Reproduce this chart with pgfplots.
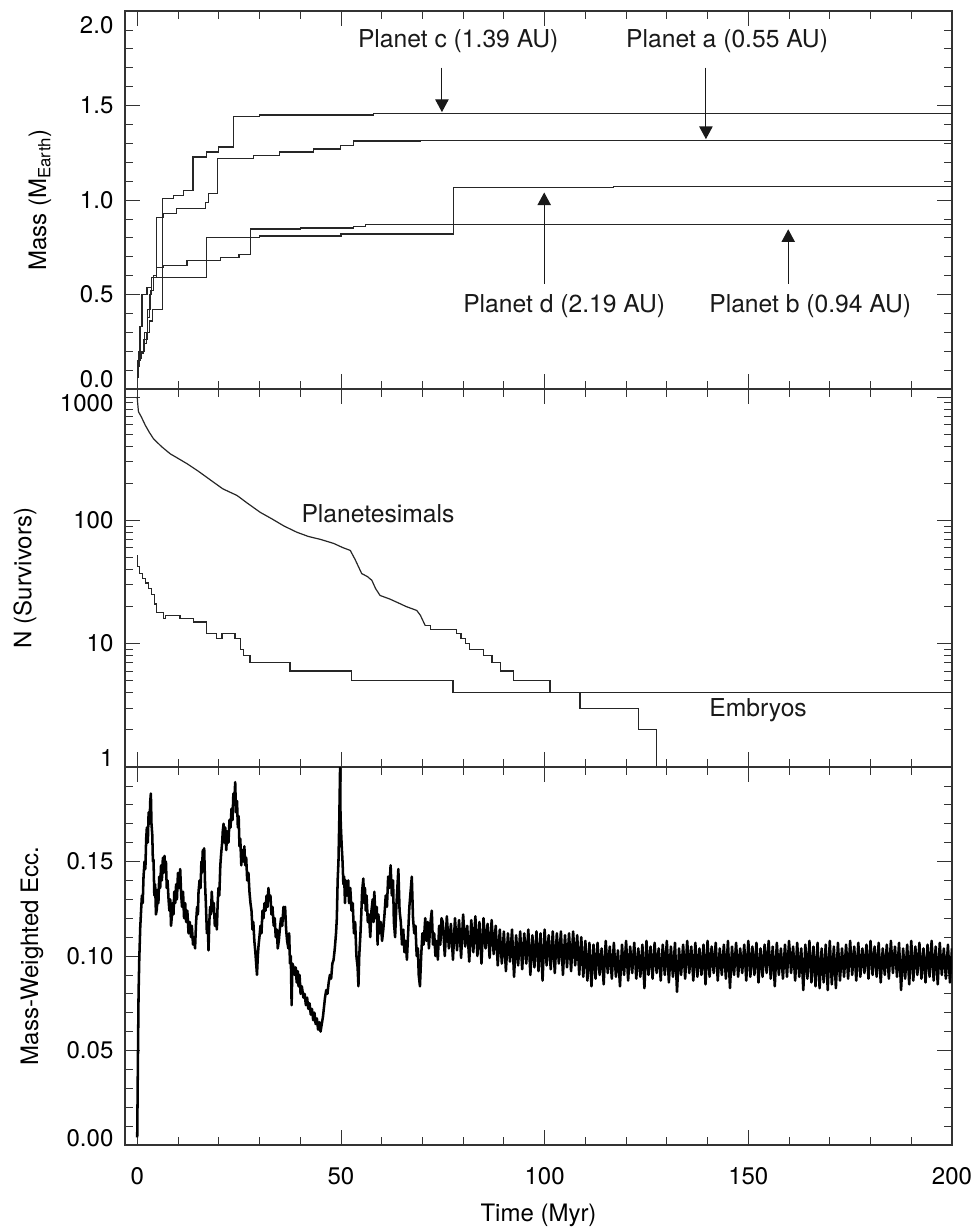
\documentclass[border=0pt]{standalone}
\usepackage{fontspec}
\setmainfont{TeX Gyre Heros}
\usepackage{pgfplots}
\pgfplotsset{compat=1.18}
\usetikzlibrary{arrows.meta}
\begin{document}
\begin{tikzpicture}
\pgfplotsset{
  idl/.style={
    width=620.25pt, height=283.5pt, scale only axis,
    xmin=-3, xmax=200,
    xtick={0,50,100,150,200}, minor x tick num=4,
    tick align=inside, tick pos=both,
    major tick length=11pt, minor tick length=6pt,
    axis line style={line width=0.8pt, black!80},
    every tick/.style={black!80, line width=0.6pt},
    font=\fontsize{18}{21.5}\selectfont,
    yticklabel style={xshift=-5.2pt},
    xticklabel style={yshift=-13.5pt},
    every axis plot/.append style={line width=0.9pt, black!85},
  },
}
\tikzset{
  ann/.style={font=\fontsize{18.5}{22}\selectfont, black!90},
  arr/.style={-{Triangle[width=10pt,length=9.5pt]}, line width=0.8pt, black!90},
}
\useasboundingbox (-93.75pt,8.25pt) rectangle (638.25pt,-912.75pt);

% ---------------- Panel 1: masses ----------------
\begin{axis}[idl, at={(0pt,0pt)}, anchor=north west,
  ymin=0, ymax=2,
  ytick={0,0.5,1,1.5,2}, minor y tick num=4,
  yticklabels={\raisebox{7.5pt}[\height][\depth]{0.0},0.5,1.0,1.5,\raisebox{-10.5pt}[\height][\depth]{2.0}},
  xticklabels={},
  ylabel={Mass (M\textsubscript{Earth})},
  ylabel style={at={(axis description cs:-0.1028,0.5)}, anchor=center},
]
% Planet c
\addplot[const plot] coordinates {(0,0.06) (0.2,0.15) (0.8,0.19) (1.5,0.24) (2.2,0.30) (3.0,0.36) (3.8,0.42) (6.3,1.006) (8.9,1.024) (11.4,1.05) (13.7,1.227) (17.1,1.254) (20.0,1.28) (23.6,1.44) (30,1.45) (58,1.458) (200,1.458)};
% Planet a
\addplot[const plot] coordinates {(0,0.1) (0.3,0.16) (1,0.2) (1.8,0.3) (2.6,0.42) (3.3,0.52) (3.9,0.6) (4.66,0.909) (6.5,0.927) (9.7,0.953) (16.7,0.988) (17.5,1.033) (19.7,1.218) (28.5,1.236) (35,1.254) (43.3,1.27) (49.8,1.289) (53.1,1.312) (69.4,1.316) (200,1.316)};
% Planet b
\addplot[const plot] coordinates {(0,0.08) (0.3,0.2) (0.7,0.33) (1.15,0.5) (2.4,0.537) (3.5,0.59) (4.7,0.643) (6.5,0.652) (12.2,0.679) (20.4,0.697) (25,0.71) (27.9,0.847) (40,0.852) (53.1,0.858) (56,0.87) (200,0.87)};
% Planet d
\addplot[const plot] coordinates {(0,0.12) (0.5,0.2) (1.5,0.26) (2.5,0.38) (3.1,0.5) (3.6,0.59) (17.1,0.80) (30,0.81) (50,0.82) (77.6,1.066) (117,1.072) (200,1.072)};
\node[ann] at (axis cs:78.8,1.84) {Planet c (1.39 AU)};
\node[ann] at (axis cs:144.8,1.84) {Planet a (0.55 AU)};
\node[ann] at (axis cs:104.8,0.44) {Planet d (2.19 AU)};
\node[ann] at (axis cs:165.2,0.44) {Planet b (0.94 AU)};
\draw[arr] (axis cs:74.8,1.70) -- (axis cs:74.8,1.465);
\draw[arr] (axis cs:139.6,1.70) -- (axis cs:139.6,1.322);
\draw[arr] (axis cs:99.9,0.557) -- (axis cs:99.9,1.04);
\draw[arr] (axis cs:159.8,0.557) -- (axis cs:159.8,0.845);
\end{axis}

% ---------------- Panel 2: survivors ----------------
\begin{axis}[idl, at={(0pt,-283.5pt)}, anchor=north west,
  ymode=log, ymin=1, ymax=1160,
  ytick={1,10,100,1000},
  minor ytick={2,3,4,5,6,7,8,9,20,30,40,50,60,70,80,90,200,300,400,500,600,700,800,900},
  yticklabels={\raisebox{6.75pt}[\height][\depth]{1},10,100,\raisebox{-5pt}[\height][\depth]{1000}},
  xticklabels={},
  ylabel={N (Survivors)},
  ylabel style={at={(axis description cs:-0.121,0.5)}, anchor=center},
]
% Planetesimals (smooth part)
\addplot[sharp plot] coordinates {(0,1000) (0.1,900) (0.3,760) (1,690) (2,588) (3,515) (4,458) (6,395) (8.1,346) (10,318) (12.2,288) (15,250) (18.7,204) (21,180) (24.5,159) (27,138) (30.2,116) (33,103) (36,90) (39.2,80) (42,74) (45,70) (48.2,65) (50.5,60) (52.3,57) (53.5,48) (55.1,37) (56.5,35) (57.6,32.6) (58.5,28) (59.6,24.6) (62,23) (64.5,21.1) (66,20) (68.6,18.6) (69.5,17) (70.7,14)};
% Planetesimals (integer steps)
\addplot[const plot] coordinates {(70.7,14) (72,13) (78.4,12) (79.5,11) (80.5,10) (81.5,9) (85,8) (87.1,7) (89.1,6) (92.3,5) (101.3,4) (108.7,3) (123,2) (127.5,0.5)};
% Embryos
\addplot[const plot] coordinates {(0,52) (0.1,42) (0.6,37) (1.2,34) (2,31) (2.8,28) (3.6,25) (4.2,21) (4.8,18) (6.5,16) (6.9,17) (10.5,16) (13.8,15) (17.1,12) (19.5,11) (20.8,12) (24,11) (25.3,9) (26.1,8) (27.7,7) (37.5,6) (52.5,5) (77.5,4) (200,4)};
\node[ann] at (axis cs:59.1,114) {Planetesimals};
\node[ann] at (axis cs:152.4,2.88) {Embryos};
\end{axis}

% ---------------- Panel 3: eccentricity ----------------
\begin{axis}[idl, at={(0pt,-567pt)}, anchor=north west,
  ymin=0, ymax=0.2,
  ytick={0,0.05,0.1,0.15},
  minor ytick={0.01,0.02,0.03,0.04,0.06,0.07,0.08,0.09,0.11,0.12,0.13,0.14,0.16,0.17,0.18,0.19},
  yticklabels={\raisebox{5pt}[\height][\depth]{0.00},0.05,0.10,0.15},
  xticklabels={0,50,100,150,200},
  ylabel={Mass-Weighted Ecc.},
  ylabel style={at={(axis description cs:-0.1125,0.5)}, anchor=center},
  xlabel={Time (Myr)},
  xlabel style={at={(axis description cs:0.5,0)}, anchor=north, yshift=-40.5pt},
]
\addplot[sharp plot, line width=1.9pt, line join=round, black] coordinates {
(0.00,0.004) (0.15,0.040) (0.33,0.080) (0.50,0.098) (0.74,0.115) (0.95,0.124) (1.15,0.132) (1.35,0.128) (1.55,0.142) (1.80,0.150)
(2.00,0.146) (2.20,0.162) (2.37,0.168) (2.60,0.160) (2.80,0.176) (3.03,0.170) (3.20,0.182) (3.35,0.186) (3.50,0.170) (3.70,0.164)
(3.85,0.150) (4.00,0.151) (4.20,0.132) (4.40,0.138) (4.60,0.122) (4.83,0.125) (5.00,0.135) (5.20,0.128) (5.40,0.142) (5.64,0.136)
(5.85,0.148) (6.05,0.140) (6.30,0.152) (6.50,0.144) (6.70,0.153) (6.87,0.146) (7.05,0.150) (7.25,0.136) (7.45,0.140) (7.69,0.130)
(7.90,0.124) (8.10,0.130) (8.30,0.116) (8.50,0.121) (8.70,0.128) (8.90,0.122) (9.10,0.134) (9.33,0.128) (9.55,0.138) (9.75,0.130)
(10.00,0.144) (10.25,0.136) (10.55,0.146) (10.80,0.132) (11.00,0.126) (11.25,0.134) (11.50,0.120) (11.78,0.128) (12.00,0.118) (12.30,0.124)
(12.60,0.112) (12.90,0.118) (13.20,0.110) (13.40,0.116) (13.70,0.106) (13.95,0.110) (14.20,0.104) (14.45,0.118) (14.70,0.126) (14.90,0.122)
(15.05,0.134) (15.30,0.140) (15.55,0.136) (15.75,0.150) (15.87,0.144) (16.10,0.156) (16.30,0.150) (16.44,0.157) (16.65,0.138) (16.85,0.128)
(17.10,0.112) (17.30,0.118) (17.50,0.103) (17.70,0.118) (17.90,0.126) (18.10,0.122) (18.30,0.134) (18.55,0.124) (18.80,0.128) (19.05,0.116)
(19.30,0.122) (19.55,0.114) (19.75,0.128) (19.95,0.136) (20.15,0.132) (20.40,0.148) (20.60,0.154) (20.85,0.160) (21.00,0.166) (21.20,0.170)
(21.40,0.160) (21.60,0.168) (21.85,0.156) (22.10,0.166) (22.40,0.160) (22.65,0.172) (22.90,0.168) (23.15,0.178) (23.40,0.172) (23.60,0.186)
(23.80,0.180) (24.05,0.192) (24.25,0.176) (24.50,0.182) (24.70,0.168) (24.90,0.174) (25.10,0.158) (25.30,0.162) (25.55,0.148) (25.80,0.156)
(26.05,0.150) (26.30,0.158) (26.50,0.148) (26.75,0.152) (27.00,0.140) (27.30,0.144) (27.55,0.134) (27.80,0.128) (28.05,0.124) (28.30,0.114)
(28.50,0.118) (28.75,0.108) (29.00,0.102) (29.20,0.096) (29.40,0.090) (29.60,0.100) (29.80,0.106) (30.00,0.110) (30.25,0.116) (30.50,0.112)
(30.75,0.124) (31.00,0.120) (31.25,0.128) (31.50,0.124) (31.75,0.132) (32.00,0.126) (32.20,0.136) (32.45,0.130) (32.70,0.132) (32.95,0.122)
(33.20,0.126) (33.50,0.116) (33.75,0.120) (34.00,0.110) (34.25,0.114) (34.50,0.104) (34.75,0.108) (35.00,0.114) (35.30,0.120) (35.60,0.116)
(35.90,0.126) (36.10,0.120) (36.30,0.126) (36.55,0.114) (36.80,0.108) (37.10,0.104) (37.30,0.112) (37.50,0.096) (37.70,0.100) (37.90,0.074)
(38.10,0.096) (38.40,0.094) (38.65,0.090) (38.90,0.094) (39.15,0.086) (39.40,0.092) (39.60,0.084) (39.85,0.090) (40.10,0.080) (40.40,0.084)
(40.80,0.078) (41.10,0.080) (41.40,0.074) (41.70,0.078) (42.00,0.072) (42.30,0.075) (42.60,0.069) (42.90,0.072) (43.20,0.066) (43.50,0.070)
(43.80,0.064) (44.10,0.067) (44.40,0.061) (44.70,0.065) (45.00,0.060) (45.30,0.064) (45.60,0.068) (45.90,0.074) (46.10,0.078) (46.40,0.082)
(46.70,0.080) (47.00,0.086) (47.30,0.090) (47.60,0.088) (47.90,0.096) (48.20,0.098) (48.50,0.104) (48.80,0.112) (49.00,0.120) (49.20,0.140)
(49.40,0.150) (49.60,0.172) (49.80,0.200) (49.90,0.175) (50.00,0.168) (50.20,0.158) (50.40,0.150) (50.60,0.138) (50.80,0.142) (51.00,0.128)
(51.20,0.140) (51.50,0.132) (51.80,0.140) (52.00,0.128) (52.30,0.136) (52.60,0.124) (52.90,0.128) (53.20,0.112) (53.50,0.118) (53.80,0.100)
(54.10,0.094) (54.30,0.084) (54.50,0.100) (54.80,0.112) (55.00,0.122) (55.20,0.134) (55.50,0.141) (55.70,0.128) (55.90,0.136) (56.10,0.124)
(56.30,0.132) (56.60,0.118) (56.90,0.122) (57.20,0.110) (57.50,0.124) (57.80,0.130) (58.00,0.118) (58.20,0.134) (58.50,0.120) (58.80,0.126)
(59.00,0.106) (59.20,0.122) (59.50,0.112) (59.80,0.118) (60.10,0.108) (60.40,0.114) (60.70,0.122) (61.00,0.132) (61.30,0.126) (61.60,0.142)
(61.90,0.136) (62.20,0.148) (62.50,0.132) (62.80,0.140) (63.00,0.118) (63.30,0.110) (63.60,0.126) (63.90,0.138) (64.10,0.146) (64.40,0.124)
(64.70,0.118) (65.00,0.106) (65.30,0.114) (65.60,0.102) (65.90,0.108) (66.20,0.098) (66.50,0.112) (66.80,0.126) (67.10,0.134) (67.40,0.142)
(67.70,0.120) (68.00,0.112) (68.30,0.116) (68.60,0.100) (68.90,0.104) (69.10,0.090) (69.40,0.084) (69.70,0.100) (70.00,0.112) (70.30,0.106)
(70.70,0.120) (71.00,0.108) (71.30,0.118) (71.60,0.104) (71.90,0.116) (72.30,0.124) (72.60,0.106) (72.90,0.112) (73.20,0.100) (73.50,0.108)
(73.80,0.098) (74.10,0.116) (74.40,0.106) (74.70,0.120)
(75.0,.118) (75.5,.100) (76.0,.121) (76.5,.104) (77.0,.117) (77.5,.098) (78.0,.120) (78.5,.103) (79.0,.119) (79.5,.099)
(80.0,.122) (80.5,.105) (81.0,.116) (81.5,.097) (82.0,.119) (82.5,.102) (83.0,.121) (83.5,.100) (84.0,.118) (84.5,.096)
(85.0,.120) (85.5,.104) (86.0,.117) (86.5,.099) (87.0,.119) (87.5,.101) (88.0,.116) (88.5,.095) (89.0,.114) (89.5,.096)
(90.0,.113) (90.5,.092) (91.0,.112) (91.5,.097) (92.0,.114) (92.5,.089) (93.0,.111) (93.5,.095) (94.0,.113) (94.5,.093)
(95.0,.112) (95.5,.096) (96.0,.114) (96.5,.090) (97.0,.111) (97.5,.094) (98.0,.113) (98.5,.092) (99.0,.112) (99.5,.087)
(100.0,.114) (100.5,.095) (101.0,.111) (101.5,.093) (102.0,.113) (102.5,.091) (103.0,.112) (103.5,.096) (104.0,.113) (104.5,.090)
(105.0,.111) (105.5,.094) (106.0,.112) (106.5,.092) (107.0,.113) (107.5,.095) (108.0,.111) (108.5,.090) (109.0,.110) (109.5,.089)
(110.0,.108) (110.5,.087) (111.0,.107) (111.5,.084)
(112.0,.106) (112.5,.088) (113.0,.107) (113.5,.090) (114.0,.104) (114.5,.085) (115.0,.108) (115.5,.091) (116.0,.105) (116.5,.088)
(117.0,.107) (117.5,.089) (118.0,.103) (118.5,.084) (119.0,.106) (119.5,.090) (120.0,.108) (120.5,.087) (121.0,.105) (121.5,.091)
(122.0,.107) (122.5,.088) (123.0,.104) (123.5,.089) (124.0,.106) (124.5,.083) (125.0,.108) (125.5,.090) (126.0,.105) (126.5,.088)
(127.0,.107) (127.5,.091) (128.0,.104) (128.5,.087) (129.0,.106) (129.5,.090) (130.0,.108) (130.5,.086) (131.0,.105) (131.5,.089)
(132.0,.107) (132.5,.081) (133.0,.104) (133.5,.090) (134.0,.106) (134.5,.088) (135.0,.108) (135.5,.091) (136.0,.105) (136.5,.087)
(137.0,.107) (137.5,.089) (138.0,.104) (138.5,.090) (139.0,.106) (139.5,.085) (140.0,.108) (140.5,.089) (141.0,.105) (141.5,.091)
(142.0,.107) (142.5,.087) (143.0,.104) (143.5,.090) (144.0,.106) (144.5,.088) (145.0,.108) (145.5,.083) (146.0,.105) (146.5,.090)
(147.0,.107) (147.5,.089) (148.0,.104) (148.5,.091) (149.0,.106) (149.5,.087) (150.0,.108) (150.5,.089) (151.0,.105) (151.5,.090)
(152.0,.107) (152.5,.086) (153.0,.104) (153.5,.089) (154.0,.106) (154.5,.091) (155.0,.108) (155.5,.088) (156.0,.105) (156.5,.084)
(157.0,.107) (157.5,.090) (158.0,.104) (158.5,.088) (159.0,.106) (159.5,.089) (160.0,.108) (160.5,.091) (161.0,.105) (161.5,.087)
(162.0,.107) (162.5,.089) (163.0,.104) (163.5,.082) (164.0,.106) (164.5,.088) (165.0,.108) (165.5,.086) (166.0,.105) (166.5,.084)
(167.0,.107) (167.5,.083) (168.0,.104) (168.5,.086) (169.0,.106) (169.5,.082) (170.0,.108) (170.5,.085) (171.0,.105) (171.5,.083)
(172.0,.107) (172.5,.087) (173.0,.104) (173.5,.089) (174.0,.106) (174.5,.088) (175.0,.108) (175.5,.090) (176.0,.105) (176.5,.087)
(177.0,.107) (177.5,.089) (178.0,.104) (178.5,.091) (179.0,.106) (179.5,.088) (180.0,.108) (180.5,.090) (181.0,.105) (181.5,.089)
(182.0,.107) (182.5,.086) (183.0,.104) (183.5,.090) (184.0,.106) (184.5,.088) (185.0,.108) (185.5,.091) (186.0,.105) (186.5,.089)
(187.0,.107) (187.5,.082) (188.0,.104) (188.5,.088) (189.0,.106) (189.5,.085) (190.0,.108) (190.5,.087) (191.0,.105) (191.5,.090)
(192.0,.107) (192.5,.088) (193.0,.104) (193.5,.086) (194.0,.106) (194.5,.089) (195.0,.108) (195.5,.087) (196.0,.105) (196.5,.085)
(197.0,.107) (197.5,.090) (198.0,.104) (198.5,.088) (199.0,.106) (199.5,.086) (200.0,.104)
};
\end{axis}
\end{tikzpicture}
\end{document}
